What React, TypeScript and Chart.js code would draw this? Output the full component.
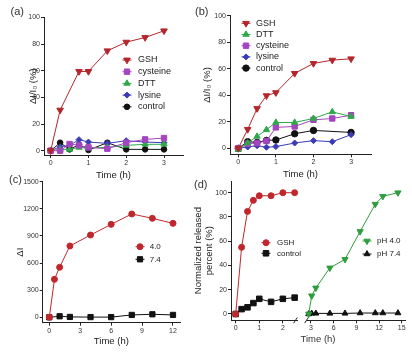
import React, { useEffect, useRef, useState } from 'react';
import { Chart, registerables } from 'chart.js';

Chart.register(...registerables);

const FONT = '"Liberation Sans", Arial, Helvetica, sans-serif';
const TITLE_SIZE = 9.5;
const AXIS = '#222222';

const RED = '#b3262c';
const PURPLE = '#a445c0';
const GREEN = '#2fa84a';
const BLUE = '#3b3bb5';
const BLACK = '#111111';
const RED_C = '#c0272d';
const GREEN_D = '#2e9e3e';

// ---------- Panel (a) ----------
const timeA = [0, 0.25, 0.5, 0.75, 1, 1.5, 2, 2.5, 3];
const gshA = [0, 30.5, null, 59.5, 59.5, 75, 81.5, 85, 90];
const cysteineA = [0, 0, 5, 4, 2.5, 1.5, 6, 8.5, 9.5];
const dttA = [0, 1, 1, 2.5, 2, 2.5, 4, 4.8, 4.8];
const lysineA = [0, 3, 4, 8.3, 6.5, 5.5, 7.5, 6.5, 6];
const controlA = [0, 6, 1, 4.5, 0.5, 6, 1, 1, 1];

// ---------- Panel (b) ----------
const timeB = [0, 0.25, 0.5, 0.75, 1, 1.5, 2, 2.5, 3];
const gshB = [0, 14.3, 30, 39.7, 42, 56.5, 64, 66.5, 67.5];
const dttB = [-1, 4, 9, 14, 19.5, 19.5, 22.5, 27.5, 24];
const cysteineB = [0, 3.5, 4, 5.5, 15.8, 16.5, 21.5, 22.5, 25];
const lysineB = [0, 1, 2, 0.8, 1.3, 4, 5.8, 5, 10.3];
const controlB = [0, 5, 4.5, 6, 6.3, 11, 13.5, null, 12];

// ---------- Panel (c) ----------
const timeC = [0, 0.5, 1, 2, 4, 6, 8, 10, 12];
const ph40C = [0, 420, 553, 789, 910, 1028, 1143, 1095, 1039];
const ph74C = [0, null, 11, 4, 2, 2, 26, 33, 26];

// ---------- Panel (d) ----------
const timeDL = [0, 0.25, 0.5, 0.75, 1, 1.5, 2, 2.5];
const gshD = [0, 55, 84.6, 93.7, 97.5, 97.5, 100, 100];
const controlD = [0, 4, 5.5, 9, 12.5, 10, 12.5, 13.5];
const timeDR = [2.7, 3.1, 3.65, 5.5, 7.5, 9.5, 11.5, 12.5, 14.5];
const ph40D = [0, 15, 21.5, 38, 45, 68, 90.5, 97, 100];
const ph74D = [0, 0.5, 0.5, 0.5, 0.5, 0.8, 0.8, 0.8, 0.8];

// ---------- Tick labels ----------
const ticksAB_x = [0, 1, 2, 3];
const ticksAB_y = [0, 20, 40, 60, 80, 100];
const ticksC_x = [0, 3, 6, 9, 12];
const ticksC_y = [0, 300, 600, 900, 1200, 1500];
const ticksDL_x = [0, 1, 2];
const ticksDR_x = [3, 6, 9, 12, 15];
const ticksD_y = [0, 20, 40, 60, 80, 100];

type Series = {
  label: string;
  xs: number[];
  ys: (number | null)[];
  color: string;
  style: string;
  r: number;
  rot?: number;
};

type Spec = {
  box: { x: number; y: number; w: number; h: number };
  series: Series[];
  area: { l: number; r: number; t: number; b: number };
  xRange: [number, number];
  yRange: [number, number];
  ySoftMax?: boolean;
  xTicks: number[];
  yTicks: number[];
  yTitle?: string[];
  yTitleX?: number;
  xTitle?: string;
  xTitleY?: number;
  hideY?: boolean;
  legend: { x: number; y: number; dy: number; textX: number; size: number; half: number };
  breakSide?: 'left' | 'right';
};

function toPoints(xs: number[], ys: (number | null)[]) {
  const out: { x: number; y: number }[] = [];
  xs.forEach((x, i) => {
    const y = ys[i];
    if (y !== null && y !== undefined) out.push({ x, y });
  });
  return out;
}

function drawMarker(ctx: CanvasRenderingContext2D, style: string, r: number, rot: number, x: number, y: number, color: string) {
  ctx.save();
  ctx.fillStyle = color;
  ctx.strokeStyle = color;
  ctx.lineWidth = 1;
  ctx.beginPath();
  if (style === 'circle') {
    ctx.arc(x, y, r, 0, Math.PI * 2);
  } else if (style === 'rect') {
    const s = r * Math.SQRT1_2;
    ctx.rect(x - s, y - s, 2 * s, 2 * s);
  } else if (style === 'rectRot') {
    ctx.moveTo(x, y - r);
    ctx.lineTo(x + r, y);
    ctx.lineTo(x, y + r);
    ctx.lineTo(x - r, y);
    ctx.closePath();
  } else {
    let a = (rot * Math.PI) / 180;
    ctx.moveTo(x + Math.sin(a) * r, y - Math.cos(a) * r);
    a += (2 * Math.PI) / 3;
    ctx.lineTo(x + Math.sin(a) * r, y - Math.cos(a) * r);
    a += (2 * Math.PI) / 3;
    ctx.lineTo(x + Math.sin(a) * r, y - Math.cos(a) * r);
    ctx.closePath();
  }
  ctx.fill();
  ctx.stroke();
  ctx.restore();
}

function makeLegendPlugin(lg: Spec['legend'], ox: number, oy: number) {
  return {
    id: 'panelLegend',
    afterDatasetsDraw(chart: any) {
      const ctx: CanvasRenderingContext2D = chart.ctx;
      chart.data.datasets.forEach((ds: any, i: number) => {
        const x = lg.x - ox;
        const y = lg.y - oy + i * lg.dy;
        ctx.save();
        ctx.strokeStyle = ds.borderColor;
        ctx.lineWidth = 1;
        ctx.beginPath();
        ctx.moveTo(x - lg.half, y);
        ctx.lineTo(x + lg.half, y);
        ctx.stroke();
        ctx.restore();
        drawMarker(ctx, ds.pointStyle, ds.pointRadius, ds.pointRotation || 0, x, y, ds.borderColor);
        ctx.save();
        ctx.fillStyle = '#222';
        ctx.font = `${lg.size}px ${FONT}`;
        ctx.textBaseline = 'middle';
        ctx.textAlign = 'left';
        ctx.fillText(ds.label, lg.textX - ox, y);
        ctx.restore();
      });
    },
  };
}

function makeBreakPlugin(side: 'left' | 'right') {
  return {
    id: 'breakMark',
    afterDraw(chart: any) {
      const ctx: CanvasRenderingContext2D = chart.ctx;
      const { left, right, bottom } = chart.chartArea;
      const cx = side === 'right' ? right - 1.5 : left - 0.5;
      ctx.save();
      ctx.strokeStyle = AXIS;
      ctx.lineWidth = 1;
      ctx.beginPath();
      ctx.moveTo(cx - 1.8, bottom + 2.8);
      ctx.lineTo(cx + 1.8, bottom - 2.8);
      ctx.stroke();
      ctx.restore();
    },
  };
}

function axis(min: number, max: number, softMax: boolean, ticks: number[], size: number, horizontal: boolean, title?: string | string[], hidden?: boolean) {
  const a: any = {
    type: 'linear',
    min,
    afterFit: (s: any) => {
      if (horizontal) s.height = size;
      else s.width = size;
    },
    grid: { display: true, drawOnChartArea: false, drawTicks: true, tickLength: 3, color: AXIS },
    border: { display: true, color: AXIS, width: 1 },
    ticks: {
      stepSize: ticks[1] - ticks[0],
      includeBounds: false,
      font: { family: FONT, size: 7 },
      color: '#333',
      padding: 1,
      autoSkip: false,
      format: { useGrouping: false },
    },
    title: title
      ? { display: true, text: title, font: { family: FONT, size: TITLE_SIZE }, color: '#222', padding: 0 }
      : { display: false },
  };
  if (softMax) a.suggestedMax = max;
  else a.max = max;
  if (hidden) a.display = false;
  return a;
}

function buildConfig(spec: Spec): any {
  const lh = TITLE_SIZE * 1.2;
  const a = spec.area;
  const bx = spec.box;
  const yAxisLeft = spec.hideY ? a.l : (spec.yTitleX as number) - lh / 2;
  const yW = a.l - yAxisLeft;
  const xBottom = spec.xTitle ? (spec.xTitleY as number) + lh / 2 : a.b + 16;
  const xH = xBottom - a.b;
  const plugins: any[] = [makeLegendPlugin(spec.legend, bx.x, bx.y)];
  if (spec.breakSide) plugins.push(makeBreakPlugin(spec.breakSide));
  return {
    type: 'line',
    data: {
      datasets: spec.series.map((s) => ({
        label: s.label,
        data: toPoints(s.xs, s.ys),
        borderColor: s.color,
        backgroundColor: s.color,
        borderWidth: 1,
        pointStyle: s.style,
        pointRadius: s.r,
        pointRotation: s.rot || 0,
        pointBorderWidth: 1,
        pointBackgroundColor: s.color,
        pointBorderColor: s.color,
        tension: 0,
        fill: false,
        clip: false,
      })),
    },
    options: {
      responsive: false,
      animation: false,
      layout: {
        padding: {
          left: yAxisLeft - bx.x,
          right: bx.x + bx.w - a.r,
          top: a.t - bx.y,
          bottom: bx.y + bx.h - xBottom,
        },
      },
      plugins: { legend: { display: false } },
      scales: {
        x: axis(spec.xRange[0], spec.xRange[1], false, spec.xTicks, xH, true, spec.xTitle),
        y: axis(spec.yRange[0], spec.yRange[1], !!spec.ySoftMax, spec.yTicks, yW, false, spec.yTitle, spec.hideY),
      },
    },
    plugins,
  };
}

const DI_I0 = ['ΔI/I₀ (%)'];

const specs: Spec[] = [
  {
    box: { x: 0, y: 0, w: 200, h: 182 },
    series: [
      { label: 'GSH', xs: timeA, ys: gshA, color: RED, style: 'triangle', rot: 180, r: 3.8 },
      { label: 'cysteine', xs: timeA, ys: cysteineA, color: PURPLE, style: 'rect', r: 3.8 },
      { label: 'DTT', xs: timeA, ys: dttA, color: GREEN, style: 'triangle', r: 3.6 },
      { label: 'lysine', xs: timeA, ys: lysineA, color: BLUE, style: 'rectRot', r: 3 },
      { label: 'control', xs: timeA, ys: controlA, color: BLACK, style: 'circle', r: 2.8 },
    ],
    area: { l: 44, r: 183, t: 17.5, b: 155 },
    xRange: [-0.177, 3.503],
    yRange: [-3.23, 100],
    xTicks: ticksAB_x,
    yTicks: ticksAB_y,
    yTitle: DI_I0,
    yTitleX: 33,
    xTitle: 'Time (h)',
    xTitleY: 175,
    legend: { x: 127, y: 60, dy: 11.7, textX: 138, size: 9, half: 4.5 },
  },
  {
    box: { x: 198, y: 0, w: 214, h: 182 },
    series: [
      { label: 'GSH', xs: timeB, ys: gshB, color: RED, style: 'triangle', rot: 180, r: 3.8 },
      { label: 'DTT', xs: timeB, ys: dttB, color: GREEN, style: 'triangle', r: 3.6 },
      { label: 'cysteine', xs: timeB, ys: cysteineB, color: PURPLE, style: 'rect', r: 3.8 },
      { label: 'lysine', xs: timeB, ys: lysineB, color: BLUE, style: 'rectRot', r: 3 },
      { label: 'control', xs: timeB, ys: controlB, color: BLACK, style: 'circle', r: 3.2 },
    ],
    area: { l: 230, r: 371, t: 15.7, b: 154.3 },
    xRange: [-0.22, 3.53],
    yRange: [-4.5, 100],
    xTicks: ticksAB_x,
    yTicks: ticksAB_y,
    yTitle: DI_I0,
    yTitleX: 207,
    xTitle: 'Time (h)',
    xTitleY: 174,
    legend: { x: 246, y: 23.3, dy: 11.2, textX: 256, size: 9, half: 4.5 },
  },
  {
    box: { x: 0, y: 174, w: 190, h: 178 },
    series: [
      { label: '4.0', xs: timeC, ys: ph40C, color: RED_C, style: 'circle', r: 3 },
      { label: '7.4', xs: timeC, ys: ph74C, color: BLACK, style: 'rect', r: 3.7 },
    ],
    area: { l: 42.7, r: 180, t: 181.7, b: 322.7 },
    xRange: [-0.64, 12.68],
    yRange: [-60, 1500],
    ySoftMax: true,
    xTicks: ticksC_x,
    yTicks: ticksC_y,
    yTitle: ['ΔI'],
    yTitleX: 20.5,
    xTitle: 'Time (h)',
    xTitleY: 341.7,
    legend: { x: 140, y: 246.7, dy: 12.6, textX: 149.7, size: 8, half: 4.5 },
  },
  {
    box: { x: 186, y: 174, w: 116, h: 178 },
    series: [
      { label: 'GSH', xs: timeDL, ys: gshD, color: RED_C, style: 'circle', r: 3 },
      { label: 'control', xs: timeDL, ys: controlD, color: BLACK, style: 'rect', r: 3.9 },
    ],
    area: { l: 231, r: 300, t: 181, b: 320.3 },
    xRange: [-0.2, 2.6],
    yRange: [-5.2, 109.65],
    xTicks: ticksDL_x,
    yTicks: ticksD_y,
    yTitle: ['Normalized released', 'percent (%)'],
    yTitleX: 198,
    legend: { x: 266, y: 242.7, dy: 10.6, textX: 277, size: 8, half: 4.5 },
    breakSide: 'right',
  },
  {
    box: { x: 302, y: 174, w: 110, h: 178 },
    series: [
      { label: 'pH 4.0', xs: timeDR, ys: ph40D, color: GREEN_D, style: 'triangle', rot: 180, r: 3.6 },
      { label: 'pH 7.4', xs: timeDR, ys: ph74D, color: BLACK, style: 'triangle', r: 3.4 },
    ],
    area: { l: 305, r: 405, t: 181, b: 320.3 },
    xRange: [2.48, 15.43],
    yRange: [-5.2, 109.65],
    xTicks: ticksDR_x,
    yTicks: ticksD_y,
    hideY: true,
    legend: { x: 367, y: 241, dy: 13, textX: 377, size: 8, half: 4.5 },
    breakSide: 'left',
  },
];

function PanelChart({ spec, onReady }: { spec: Spec; onReady: (s: string) => void }) {
  const ref = useRef<HTMLCanvasElement>(null);
  useEffect(() => {
    if (!ref.current) return;
    const chart: any = new Chart(ref.current, buildConfig(spec));
    onReady(String(chart.scales.y.ticks.length));
    const raf = requestAnimationFrame(() => chart.update());
    return () => {
      cancelAnimationFrame(raf);
      chart.destroy();
    };
  }, []);
  const b = spec.box;
  return (
    <canvas
      ref={ref}
      width={b.w}
      height={b.h}
      style={{ position: 'absolute', left: b.x, top: b.y, width: b.w, height: b.h }}
    />
  );
}

function Label({ text, x, y, size, center }: { text: string; x: number; y: number; size: number; center?: boolean }) {
  return (
    <div
      style={{
        position: 'absolute',
        left: x,
        top: y,
        transform: center ? 'translate(-50%, -50%)' : 'translate(0, -50%)',
        fontFamily: FONT,
        fontSize: size,
        lineHeight: 1,
        color: '#333',
        whiteSpace: 'nowrap',
      }}
    >
      {text}
    </div>
  );
}

export default function App() {
  const [, setReady] = useState('');
  return (
    <div
      style={{
        position: 'absolute',
        left: 0,
        top: 0,
        width: 412,
        height: 352,
        background: '#ffffff',
        overflow: 'hidden',
      }}
    >
      {specs.map((s, i) => (
        <PanelChart key={i} spec={s} onReady={(v) => setReady(i + ':' + v)} />
      ))}
      <Label text="(a)" x={10.5} y={11} size={11} />
      <Label text="(b)" x={195} y={11} size={11} />
      <Label text="(c)" x={9} y={179} size={11} />
      <Label text="(d)" x={194} y={184} size={11} />
      <Label text="Time (h)" x={318} y={339.3} size={TITLE_SIZE} center />
    </div>
  );
}
